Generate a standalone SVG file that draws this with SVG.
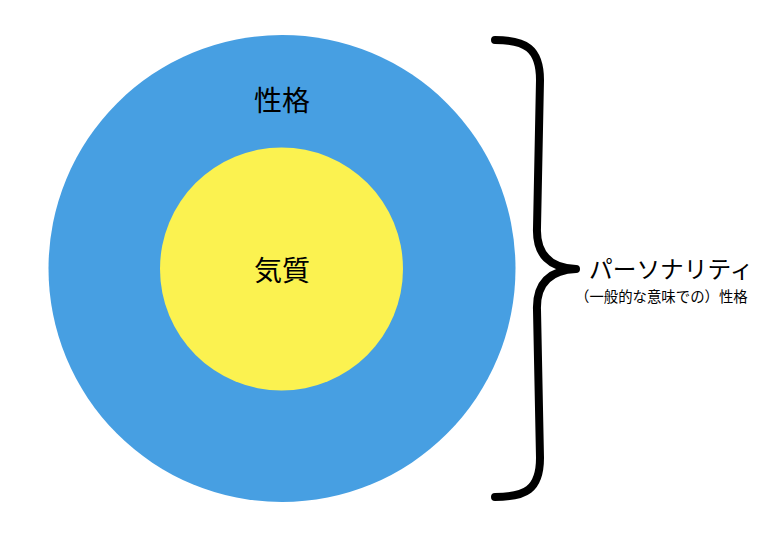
<svg xmlns="http://www.w3.org/2000/svg" width="767" height="538" viewBox="0 0 767 538">
<style>
text{font-family:"Noto Sans CJK JP","Noto Sans",sans-serif;fill:#000}
.big{font-size:28px;text-anchor:middle}
</style>
<rect width="767" height="538" fill="#fff"/>
<g id="personality-circle">
<circle cx="282" cy="268.5" r="233.5" fill="#479fe2"/>
<text class="big" x="282" y="111">性格</text>
</g>
<g id="temperament-circle">
<circle cx="281.5" cy="269" r="121.5" fill="#fbf250"/>
<text class="big" x="282" y="281">気質</text>
</g>
<g id="connectors">
<path d="M495,40 C525,40 540,48 540,80 L537,228 C536,255 550,268 576,269 C550,270 536,283 537,310 L540,458 C540,490 525,497 495,497" fill="none" stroke="#000" stroke-width="8" stroke-linecap="round" stroke-linejoin="round"/>
</g>
<g id="label">
<text x="589" y="278" style="font-size:23.7px">パーソナリティ</text>
<text x="575" y="302" style="font-size:14.4px">（一般的な意味での）性格</text>
</g>
</svg>
